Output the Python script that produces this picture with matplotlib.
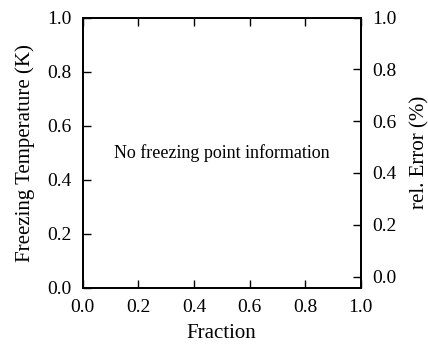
import matplotlib
matplotlib.use("Agg")
import matplotlib.pyplot as plt

# Axis ranges and tick values
x_limits = [0.0, 1.0]
temp_limits = [0.0, 1.0]
error_limits = [-0.044, 1.0]
x_ticks = [0.0, 0.2, 0.4, 0.6, 0.8, 1.0]
temp_ticks = [0.0, 0.2, 0.4, 0.6, 0.8, 1.0]
error_ticks = [0.0, 0.2, 0.4, 0.6, 0.8, 1.0]

x_label = "Fraction"
temp_label = "Freezing Temperature (K)"
error_label = "rel. Error (%)"
message = "No freezing point information"

plt.rcParams["font.family"] = ["Liberation Serif", "DejaVu Serif"]

fig = plt.figure(figsize=(4.28, 3.49), dpi=100)
ax = fig.add_axes([82.7 / 428, 1 - 288 / 349, (360.7 - 82.7) / 428, (288 - 17.5) / 349])
ax2 = ax.twinx()

ax.set_xlim(*x_limits)
ax.set_ylim(*temp_limits)
ax2.set_ylim(*error_limits)
ax.set_xticks(x_ticks)
ax.set_yticks(temp_ticks)
ax2.set_yticks(error_ticks)
ax.set_xticklabels([f"{v:.1f}" for v in x_ticks])
ax.set_yticklabels([f"{v:.1f}" for v in temp_ticks])
ax2.set_yticklabels([f"{v:.1f}" for v in error_ticks])

tick_kw = dict(direction="in", length=5.5, width=1.0, labelsize=14, pad=8)
ax.tick_params(axis="x", top=True, bottom=True, **tick_kw)
ax.tick_params(axis="y", left=True, right=False, **tick_kw)
ax2.tick_params(axis="y", right=True, left=False, **tick_kw)

for a in (ax, ax2):
    for s in a.spines.values():
        s.set_linewidth(1.3)

ax.set_xlabel(x_label, fontsize=15, labelpad=6)
ax.set_ylabel(temp_label, fontsize=15, labelpad=9)
ax2.set_ylabel(error_label, fontsize=15, labelpad=10)

ax.text(0.5, 0.5, message, transform=ax.transAxes, ha="center", va="center",
        fontsize=13)

fig.savefig("out.png", dpi=100)
